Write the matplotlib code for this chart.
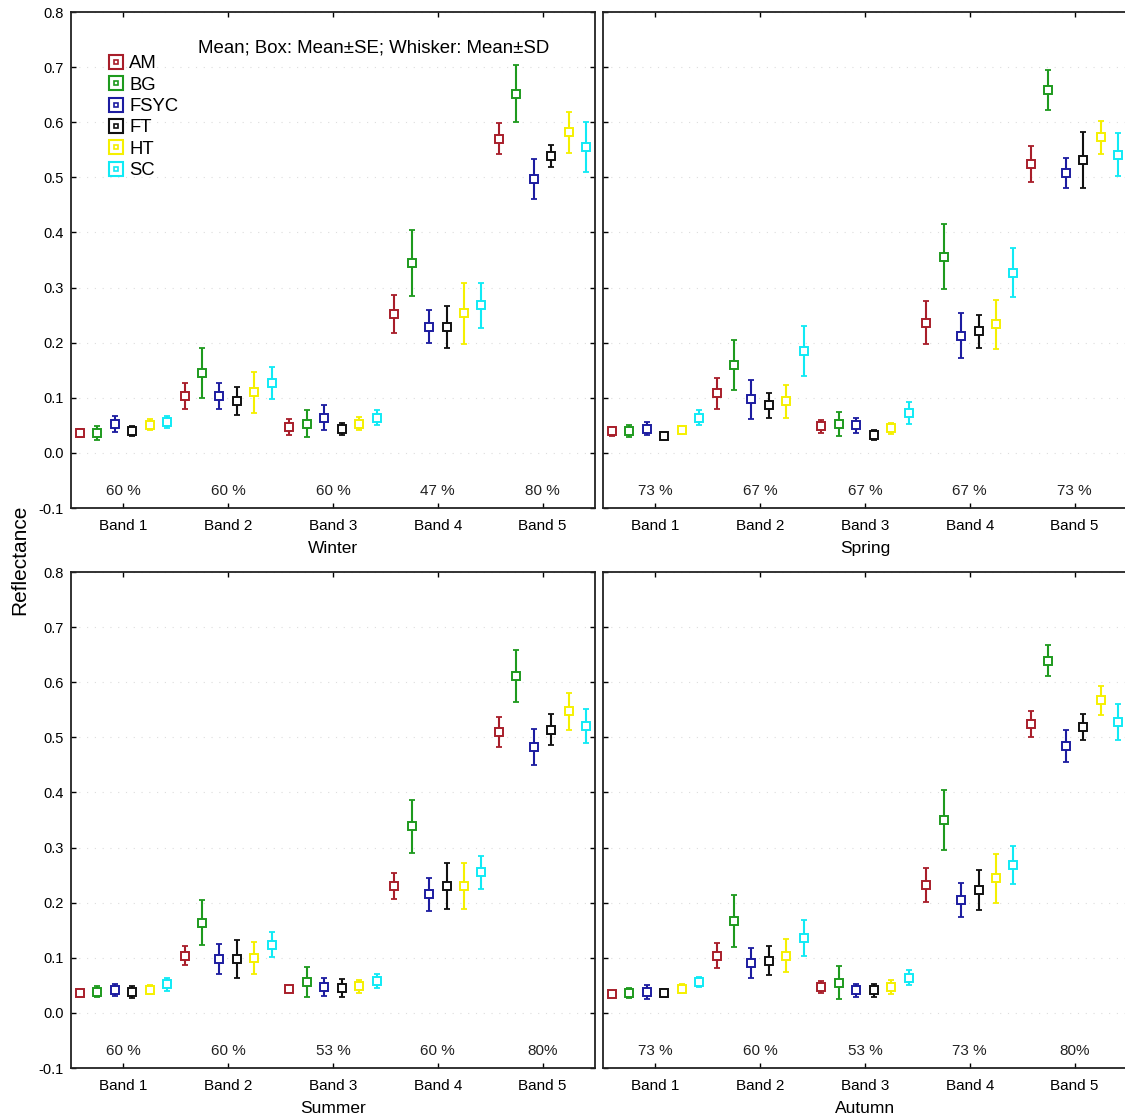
import numpy as np
import matplotlib
matplotlib.use("Agg")
import matplotlib.pyplot as plt
from matplotlib.lines import Line2D

plt.rcParams['font.family'] = ['Liberation Sans', 'DejaVu Sans']
plt.rcParams['axes.unicode_minus'] = False

bands = ["Band 1", "Band 2", "Band 3", "Band 4", "Band 5"]
classes = ["AM", "BG", "FSYC", "FT", "HT", "SC"]
colors = ["#a81e2a", "#1e9a1e", "#1c1ca0", "#111111", "#f5f000", "#10eaf5"]
seasons = ["Winter", "Spring", "Summer", "Autumn"]

# rows = classes (AM, BG, FSYC, FT, HT, SC), cols = bands 1..5
winter_mean = [[0.036, 0.103, 0.047, 0.252, 0.570],
               [0.036, 0.145, 0.053, 0.345, 0.652],
               [0.052, 0.103, 0.064, 0.229, 0.497],
               [0.039, 0.094, 0.044, 0.229, 0.539],
               [0.051, 0.110, 0.053, 0.253, 0.582],
               [0.056, 0.126, 0.064, 0.268, 0.555]]
winter_sd = [[0.007, 0.024, 0.014, 0.034, 0.028],
             [0.012, 0.045, 0.025, 0.060, 0.052],
             [0.015, 0.024, 0.023, 0.030, 0.036],
             [0.009, 0.026, 0.011, 0.038, 0.020],
             [0.010, 0.037, 0.012, 0.055, 0.037],
             [0.011, 0.029, 0.013, 0.041, 0.045]]
winter_pct = ["60 %", "60 %", "60 %", "47 %", "80 %"]

spring_mean = [[0.039, 0.108, 0.048, 0.236, 0.524],
               [0.039, 0.159, 0.053, 0.356, 0.658],
               [0.044, 0.097, 0.050, 0.213, 0.508],
               [0.030, 0.086, 0.033, 0.221, 0.532],
               [0.042, 0.094, 0.045, 0.233, 0.573],
               [0.064, 0.185, 0.073, 0.327, 0.541]]
spring_sd = [[0.008, 0.028, 0.012, 0.039, 0.033],
             [0.011, 0.045, 0.022, 0.059, 0.036],
             [0.012, 0.036, 0.014, 0.041, 0.027],
             [0.006, 0.023, 0.009, 0.030, 0.051],
             [0.007, 0.030, 0.010, 0.045, 0.030],
             [0.014, 0.045, 0.020, 0.045, 0.039]]
spring_pct = ["73 %", "67 %", "67 %", "67 %", "73 %"]

summer_mean = [[0.036, 0.104, 0.044, 0.230, 0.510],
               [0.038, 0.164, 0.056, 0.339, 0.612],
               [0.041, 0.098, 0.047, 0.215, 0.482],
               [0.038, 0.098, 0.045, 0.230, 0.514],
               [0.042, 0.100, 0.048, 0.230, 0.547],
               [0.052, 0.124, 0.058, 0.255, 0.521]]
summer_sd = [[0.004, 0.018, 0.004, 0.024, 0.027],
             [0.010, 0.040, 0.028, 0.048, 0.047],
             [0.011, 0.027, 0.016, 0.030, 0.033],
             [0.011, 0.034, 0.017, 0.042, 0.028],
             [0.008, 0.029, 0.012, 0.042, 0.033],
             [0.012, 0.023, 0.012, 0.030, 0.031]]
summer_pct = ["60 %", "60 %", "53 %", "60 %", "80%"]

autumn_mean = [[0.035, 0.104, 0.047, 0.232, 0.524],
               [0.036, 0.167, 0.055, 0.350, 0.639],
               [0.038, 0.091, 0.041, 0.205, 0.485],
               [0.036, 0.095, 0.041, 0.223, 0.519],
               [0.044, 0.104, 0.047, 0.244, 0.567],
               [0.056, 0.136, 0.064, 0.268, 0.528]]
autumn_sd = [[0.004, 0.022, 0.011, 0.030, 0.023],
             [0.009, 0.047, 0.030, 0.054, 0.028],
             [0.012, 0.027, 0.012, 0.031, 0.029],
             [0.007, 0.027, 0.012, 0.037, 0.023],
             [0.008, 0.030, 0.012, 0.044, 0.026],
             [0.009, 0.032, 0.013, 0.035, 0.032]]
autumn_pct = ["73 %", "60 %", "53 %", "73 %", "80%"]

means = [winter_mean, spring_mean, summer_mean, autumn_mean]
sds = [winter_sd, spring_sd, summer_sd, autumn_sd]
pcts = [winter_pct, spring_pct, summer_pct, autumn_pct]

fig = plt.figure(figsize=(11.25, 11.17), dpi=100)
W, H = 1125, 1117
# panel boxes in pixels: left, top, width, height
boxes = [(71, 12, 524, 496), (603, 12, 524, 496),
         (71, 572, 524, 496), (603, 572, 524, 496)]

xb = np.arange(1, 6)
offsets = (np.arange(6) - 2.5) / 6.0

for k, (l, t, w, h) in enumerate(boxes):
    ax = fig.add_axes([l / W, 1 - (t + h) / H, w / W, h / H])
    ax.set_xlim(0.5, 5.5)
    ax.set_ylim(-0.1, 0.8)
    ax.set_yticks(np.arange(-0.1, 0.81, 0.1))
    ax.set_xticks(xb)
    ax.set_xticklabels(bands, fontsize=11)
    right_side = k % 2 == 1
    if not right_side:
        ax.set_yticklabels(["%.1f" % v for v in np.arange(-0.1, 0.81, 0.1)], fontsize=10.5)
    else:
        ax.set_yticklabels([])
    ax.tick_params(direction='in', top=True, right=not right_side, length=3.5, width=1, pad=5)
    ax.tick_params(axis='x', pad=8)
    for s in ax.spines.values():
        s.set_linewidth(1.3)
        s.set_color('#222222')
    if right_side:
        # the right-hand panels run off the edge of the picture
        ax.spines['right'].set_visible(False)
    ax.grid(axis='y', color='#dddddd', lw=0.8, ls=(0, (1, 6)))
    ax.set_axisbelow(True)
    ax.set_xlabel(seasons[k], fontsize=12.5, labelpad=6)

    for i, c in enumerate(classes):
        x = xb + offsets[i]
        m = np.array(means[k][i])
        sd = np.array(sds[k][i])
        ax.errorbar(x, m, yerr=sd, fmt='none', ecolor=colors[i], elinewidth=1.5,
                    capsize=2.2, capthick=1.3, zorder=3)
        ax.plot(x, m, ls='', marker='s', ms=5.2, mfc='white', mec=colors[i],
                mew=1.4, zorder=4)

    for j, p in enumerate(pcts[k]):
        ax.text(xb[j], -0.07, p, ha='center', va='center', fontsize=11, color='#222222')

    if k == 0:
        handles = [(Line2D([], [], ls='', marker='s', ms=10, mfc='white', mec=c, mew=1.5),
                    Line2D([], [], ls='', marker='s', ms=3.5, mfc='white', mec=c, mew=1.2))
                   for c in colors]
        ax.legend(handles, classes, loc='upper left', bbox_to_anchor=(0.072, 0.913),
                  frameon=False, fontsize=13.3, handlelength=0.8, handletextpad=0.3,
                  labelspacing=0.24, borderpad=0, borderaxespad=0)
        ax.text(0.578, 0.927, "Mean; Box: Mean±SE; Whisker: Mean±SD", transform=ax.transAxes,
                ha='center', va='center', fontsize=13.4)

fig.text(20 / W, 1 - 560 / H, "Reflectance", rotation=90, ha='center', va='center', fontsize=15)

fig.savefig("out.png", dpi=100)
